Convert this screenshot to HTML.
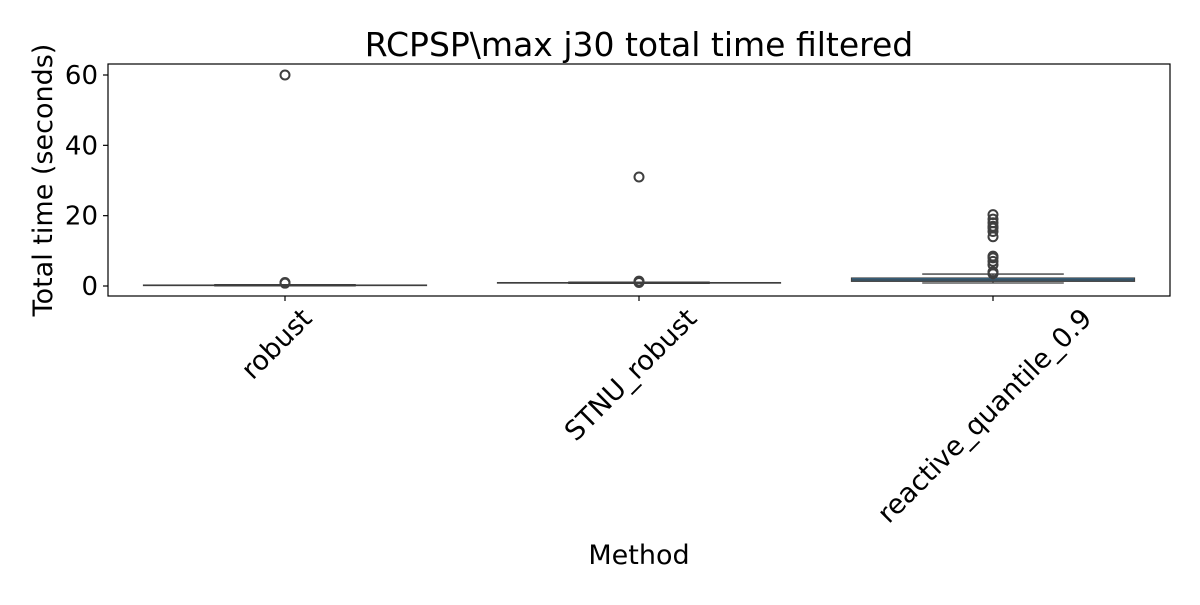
<!DOCTYPE html>
<html><head><meta charset="utf-8"><style>
body{margin:0;background:#fff;}
svg text{font-family:"DejaVu Sans","Liberation Sans",sans-serif;fill:#000;}
</style></head><body>
<svg id="chart" width="1200" height="600" xmlns="http://www.w3.org/2000/svg">
<text x="639" y="56" font-size="33" text-anchor="middle">RCPSP\max j30 total time filtered</text>
<text transform="translate(52,180) rotate(-90)" font-size="27" text-anchor="middle">Total time (seconds)</text>
<text x="639" y="564" font-size="27" text-anchor="middle">Method</text>
<g id="marks"></g>
<rect x="108" y="64" width="1062" height="232" fill="none" stroke="#000" stroke-width="1.2"/>
</svg>
<script>
const categories = ["robust","STNU_robust","reactive_quantile_0.9"];
const q1 = [0.1, 0.8, 1.3];
const medians = [0.2, 0.9, 1.7];
const q3 = [0.3, 1.0, 2.3];
const whiskLo = [0.05, 0.75, 0.85];
const whiskHi = [0.4, 1.1, 3.4];
const outliers = [[0.8, 1.0, 60], [1.0, 1.2, 1.4, 31], [3.5, 4, 6, 7, 8, 8.5, 14, 15.5, 16.5, 17, 18, 19, 20.3]];
const yTicks = [0, 20, 40, 60];

const NS = "http://www.w3.org/2000/svg";
const svg = document.getElementById("chart");
const g = document.getElementById("marks");
const x0 = 108, x1 = 1170, band = (x1 - x0) / categories.length;
function xScale(i){ return x0 + band * (i + 0.5); }
function yScale(v){ return 286 - v * (211 / 60); }
function mk(tag, attrs){ const e = document.createElementNS(NS, tag); for (const k in attrs) e.setAttribute(k, attrs[k]); return e; }

yTicks.forEach(t => {
  const y = yScale(t);
  const tk = mk("line", {x1: 103, x2: 108, y1: y, y2: y, stroke: "#000", "stroke-width": 1.2});
  
  
  svg.appendChild(tk);
  const lb = mk("text", {x: 98, y: y + 9, "font-size": 26, "text-anchor": "end"});
  lb.textContent = t;
  
  
  svg.appendChild(lb);
});

categories.forEach((c, i) => {
  const cx = xScale(i), bw = band * 0.8, cw = bw / 2;
  const tk = mk("line", {x1: cx, x2: cx, y1: 296, y2: 301, stroke: "#000", "stroke-width": 1.2});
  
  
  svg.appendChild(tk);
  const lb = mk("text", {"font-size": 27, "text-anchor": "end"});
  lb.textContent = c;
  
  
  svg.appendChild(lb);
  const L = lb.getComputedTextLength();
  lb.setAttribute("transform", `translate(${cx + L * 0.3536 - 2},${320}) rotate(-45)`);

  const wl = mk("line", {x1: cx, x2: cx, y1: yScale(whiskLo[i]), y2: yScale(whiskHi[i]), stroke: "#3f3f3f", "stroke-width": 1.3});
  
  
  g.appendChild(wl);
  [whiskLo[i], whiskHi[i]].forEach(v => {
    const cap = mk("line", {x1: cx - cw / 2, x2: cx + cw / 2, y1: yScale(v), y2: yScale(v), stroke: "#3f3f3f", "stroke-width": 1.3});
    
    
    g.appendChild(cap);
  });
  const top = yScale(q3[i]), bot = yScale(q1[i]);
  const box = mk("rect", {x: cx - bw / 2, y: top, width: bw, height: Math.max(bot - top, 0.5), fill: "#3274a1", stroke: "#3f3f3f", "stroke-width": 1});
  
  
  g.appendChild(box);
  const md = mk("line", {x1: cx - bw / 2, x2: cx + bw / 2, y1: yScale(medians[i]), y2: yScale(medians[i]), stroke: "#3f3f3f", "stroke-width": 1.2});
  
  
  g.appendChild(md);
  outliers[i].forEach(v => {
    const o = mk("circle", {cx: cx, cy: yScale(v), r: 4.5, fill: "none", stroke: "#3f3f3f", "stroke-width": 2});
    
    
    g.appendChild(o);
  });
});
</script>
</body></html>
